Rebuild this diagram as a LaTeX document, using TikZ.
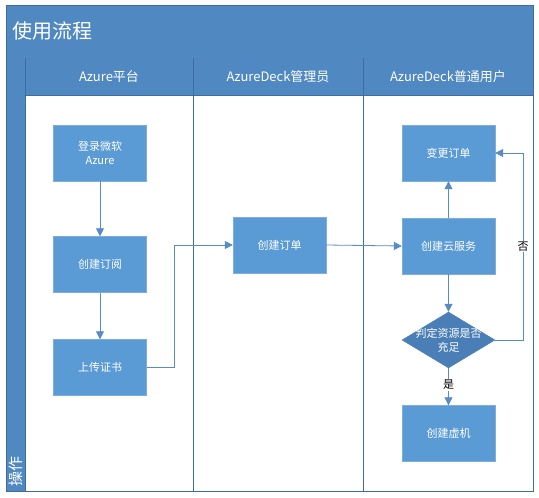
\documentclass[tikz,border=0pt]{standalone}
\usepackage{fontspec}
\setmainfont{Noto Sans CJK SC}
\usetikzlibrary{arrows.meta,shapes.geometric}
\definecolor{bandblue}{RGB}{80,136,193}
\definecolor{laneline}{RGB}{62,110,160}
\definecolor{boxblue}{RGB}{91,155,213}
\definecolor{diablue}{RGB}{74,126,182}
\definecolor{flowline}{RGB}{88,140,198}
\tikzset{
  stepbox/.style={draw=boxblue!80!white, fill=boxblue, text=white, minimum width=93pt,
    minimum height=56pt, inner sep=2pt, align=center, font=\fontsize{11}{14}\selectfont},
  checkbox/.style={diamond, draw=diablue, fill=diablue, minimum width=93pt,
    minimum height=56pt, inner sep=0pt},
  checktext/.style={text=white, align=center, font=\fontsize{11}{14}\selectfont},
  lanehead/.style={text=white, font=\fontsize{13}{15}\selectfont},
  flow/.style={draw=flowline, line width=0.8pt, -{Triangle[width=8pt,length=8pt]}},
  flowlabel/.style={fill=white, inner sep=1pt, font=\fontsize{11}{13}\selectfont}
}
\begin{document}
\begin{tikzpicture}[x=1pt, y=-1pt]
\useasboundingbox (0,0) rectangle (539,498);
\fill[white] (0,0) rectangle (539,498);
% frame and lanes
\fill[bandblue] (6,5) rectangle (533,58);
\fill[bandblue] (6,58) rectangle (25,491);
\fill[bandblue] (25,58) rectangle (533,95);
\draw[laneline, line width=0.8pt] (6,5) rectangle (533,491);
\draw[laneline, line width=0.6pt] (25,58) -- (25,491);
\draw[laneline, line width=0.6pt] (25,95) -- (533,95);
\draw[laneline, line width=0.6pt] (193,58) -- (193,491);
\draw[laneline, line width=0.6pt] (363,58) -- (363,491);
\node[anchor=west, text=white, font=\fontsize{20}{24}\selectfont] (title) at (9,31) {使用流程};
\node[text=white, rotate=90, font=\fontsize{15}{18}\selectfont] (ops) at (15.5,471) {操作};
\node[lanehead] (laneA) at (109,76.5) {Azure平台};
\node[lanehead] (laneB) at (278,76.5) {AzureDeck管理员};
\node[lanehead] (laneC) at (448,76.5) {AzureDeck普通用户};

% steps
\node[stepbox] (login) at (100,153) {登录微软\\Azure};
\node[stepbox] (subscribe) at (100,264.5) {创建订阅};
\node[stepbox] (cert) at (100,367.5) {上传证书};
\node[stepbox] (order) at (279.5,245) {创建订单};
\node[stepbox] (modify) at (448.5,153) {变更订单};
\node[stepbox] (cloud) at (448.5,246) {创建云服务};
\node[checkbox, label={[checktext]center:判定资源是否\\充足}] (check) at (448.5,340) {};
\node[stepbox] (vm) at (448.5,433.5) {创建虚机};

% connectors
\draw[flow] (login) -- (subscribe);
\draw[flow] (subscribe) -- (cert);
\draw[flow] (cert.east) -- ++(28,0) |- (order.west);
\draw[flow] (order.east) -- (cloud.west);
\draw[flow] (cloud) -- (modify);
\draw[flow] (cloud) -- (check);
\draw[flow] (check) -- node[flowlabel, pos=0.45] {是} (vm);
\draw[flow] (check.east) -- ++(28,0) |- node[flowlabel, pos=0.25] {否} (modify.east);
\end{tikzpicture}
\end{document}
